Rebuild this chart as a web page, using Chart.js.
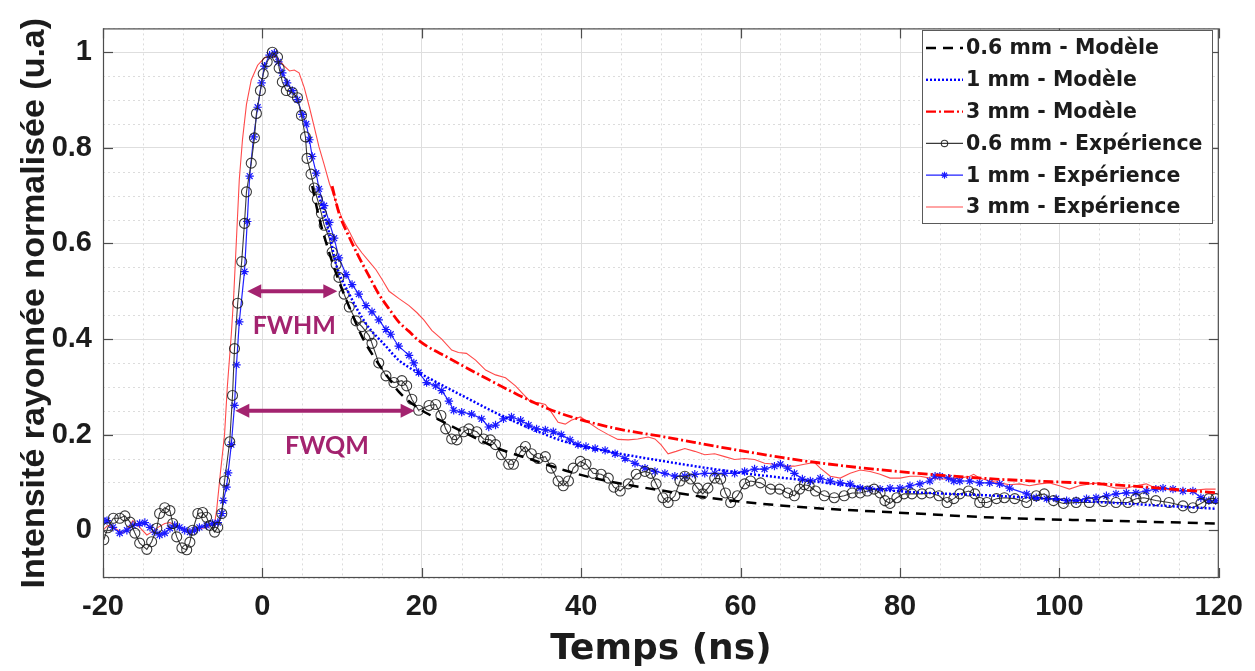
<!DOCTYPE html>
<html>
<head>
<meta charset="utf-8">
<script src="https://cdn.jsdelivr.net/npm/chart.js@4.4.1/dist/chart.umd.min.js"></script>
<style>
  html, body { margin: 0; padding: 0; background: #fff; }
</style>
</head>
<body>
<canvas id="chart" width="1255" height="671"></canvas>
<script>
// series labels (legend order)
const seriesNames = ['0.6 mm - Modèle', '1 mm - Modèle', '3 mm - Modèle',
                     '0.6 mm - Expérience', '1 mm - Expérience', '3 mm - Expérience'];

// tick labels
const xTicks = [-20, 0, 20, 40, 60, 80, 100, 120];
const yTicks = [0, 0.2, 0.4, 0.6, 0.8, 1];

// model curves [time ns, normalized intensity]
const model06 = [[6.25,0.72],[7.1,0.655],[8.4,0.58],[9.6,0.521],[10.9,0.467],[12.5,0.405],[14.25,0.356],
  [16.25,0.309],[17.1,0.29],[19.6,0.255],[21.5,0.237],[25.5,0.203],[29.6,0.171],[33.75,0.148],[38,0.125],
  [42.1,0.107],[50.5,0.082],[58.75,0.062],[68.75,0.047],[79.6,0.037],[93.75,0.025],[105.9,0.02],[119.6,0.014]];
const model1 = [[7.1,0.7],[8.4,0.62],[9.25,0.556],[10.9,0.494],[13,0.432],[15.5,0.385],[17.1,0.356],
  [21.25,0.315],[25.5,0.278],[29.6,0.243],[33.75,0.212],[38,0.185],[42.1,0.169],[50.5,0.144],[58.75,0.123],
  [68.75,0.103],[79.6,0.082],[92.1,0.072],[105.9,0.058],[119.6,0.045]];
const model3 = [[8.75,0.72],[9.6,0.664],[10.9,0.613],[12.1,0.572],[13.4,0.531],[14.6,0.494],[15.9,0.463],
  [17.1,0.436],[18.4,0.416],[19.6,0.397],[23.4,0.36],[27.5,0.323],[31.75,0.286],[36,0.253],[40,0.231],
  [44.6,0.212],[50.5,0.195],[58.75,0.17],[68,0.145],[79.6,0.123],[92,0.107],[106,0.096],[120,0.078]];

// experimental curves
const exp06 = [[-19.9,-0.02],[-19.4,0.005],[-18.7,0.025],[-17.9,0.025],[-17.25,0.03],[-16.6,0.017],[-16,-0.006],
  [-15.4,-0.027],[-14.5,-0.04],[-13.9,-0.024],[-13.25,0.004],[-12.9,0.035],[-12.25,0.047],[-11.6,0.041],
  [-11.25,0.014],[-10.75,-0.014],[-10.1,-0.037],[-9.5,-0.041],[-9.1,-0.025],[-8.75,0],[-8.1,0.035],[-7.5,0.037],
  [-7,0.027],[-6.6,0.01],[-6,-0.004],[-5.6,0.006],[-5.1,0.035],[-4.75,0.103],[-4.1,0.185],[-3.75,0.282],
  [-3.5,0.38],[-3.1,0.475],[-2.6,0.562],[-2.25,0.642],[-2,0.708],[-1.4,0.768],[-1,0.821],[-0.75,0.872],
  [-0.25,0.92],[0.1,0.955],[0.6,0.98],[1.25,1.0],[1.9,0.99],[2.1,0.967],[2.5,0.938],[3,0.92],[3.75,0.916],
  [4.4,0.905],[4.9,0.868],[5.4,0.823],[5.6,0.778],[6.1,0.745],[6.5,0.716],[6.9,0.693],[7.4,0.663],[7.75,0.638],
  [8.4,0.611],[8.75,0.582],[9.25,0.556],[9.6,0.529],[10.25,0.494],[10.9,0.467],[11.75,0.438],[12.5,0.426],
  [13.4,0.407],[13.75,0.391],[14.6,0.35],[15.5,0.323],[16.5,0.309],[17.5,0.313],[18.1,0.302],[18.75,0.274],
  [19.6,0.251],[20.9,0.261],[21.75,0.263],[22.4,0.24],[23,0.212],[23.75,0.191],[24.4,0.189],[25.25,0.206],
  [25.9,0.212],[26.9,0.206],[27.75,0.191],[28.6,0.189],[29.25,0.179],[30,0.158],[30.9,0.138],[31.5,0.138],
  [32.4,0.165],[33,0.175],[33.75,0.16],[34.6,0.15],[35.5,0.154],[36.25,0.13],[37.1,0.103],[37.75,0.093],
  [38.4,0.103],[39,0.13],[39.9,0.144],[40.6,0.138],[41.5,0.119],[42.5,0.117],[43.4,0.109],[44.1,0.09],
  [44.9,0.082],[45.9,0.097],[46.9,0.117],[48,0.123],[48.75,0.119],[49.4,0.097],[50.25,0.068],[50.9,0.058],
  [51.75,0.072],[52.4,0.103],[53,0.113],[53.75,0.107],[54.6,0.088],[55.25,0.076],[55.9,0.088],[56.75,0.109],
  [57.5,0.107],[58.1,0.078],[58.75,0.058],[59.6,0.072],[60.5,0.097],[61.25,0.103],[62.5,0.099],[63.75,0.086],
  [64.9,0.086],[65.9,0.078],[66.75,0.072],[67.4,0.086],[68,0.095],[68.6,0.093],[69.4,0.082],[70.5,0.072],
  [71.75,0.068],[73,0.072],[74,0.078],[75,0.078],[75.9,0.082],[76.75,0.086],[77.5,0.078],[78.1,0.062],
  [78.75,0.056],[79.6,0.068],[80.5,0.076],[81.5,0.076],[82.75,0.076],[83.75,0.078],[84.9,0.072],[85.9,0.058],
  [86.75,0.066],[87.5,0.076],[88.6,0.082],[89.4,0.076],[90,0.058],[90.9,0.058],[92.1,0.066],[93.1,0.068],
  [94.4,0.066],[95.9,0.058],[97.1,0.072],[98.1,0.076],[99.25,0.062],[100.5,0.056],[102.1,0.058],[103.75,0.058],
  [105.5,0.06],[107.1,0.058],[108.6,0.058],[109.6,0.066],[110.6,0.068],[112.1,0.062],[113.75,0.058],
  [115.5,0.051],[116.75,0.047],[117.75,0.056],[118.75,0.066],[119.6,0.066]];
const exp1 = [[-20,0.02],[-19.5,0.02],[-18.75,0.006],[-17.9,-0.006],[-17,0],[-16.25,0.01],[-15.4,0.014],
  [-14.75,0.016],[-14.1,0.006],[-13.5,-0.004],[-12.9,-0.01],[-12.25,-0.006],[-11.6,0.004],[-11,0.01],
  [-10.4,0.006],[-9.75,0],[-9.1,-0.004],[-8.5,0],[-7.9,0.006],[-7,0.01],[-6.25,0.014],[-5.6,0.016],
  [-5.1,0.035],[-4.9,0.062],[-4.5,0.09],[-4.3,0.12],[-3.9,0.179],[-3.5,0.261],[-3.25,0.346],[-2.9,0.436],
  [-2.25,0.541],[-1.9,0.646],[-1.6,0.741],[-1.1,0.823],[-0.6,0.885],[-0.1,0.936],[0.25,0.971],[0.9,0.994],
  [1.5,0.998],[2,0.98],[2.5,0.957],[3.1,0.936],[3.75,0.92],[4.4,0.901],[5,0.87],[5.5,0.85],[5.9,0.817],
  [6.25,0.782],[6.75,0.747],[7.1,0.714],[7.75,0.679],[8.4,0.644],[9,0.611],[9.6,0.57],[10.5,0.535],
  [11.25,0.514],[12.1,0.494],[13,0.47],[13.75,0.457],[14.6,0.44],[15.5,0.42],[16.1,0.41],[17.1,0.385],
  [18.4,0.366],[19,0.35],[19.6,0.33],[20.6,0.309],[21.75,0.302],[22.5,0.292],[23.4,0.27],[24,0.251],
  [25,0.247],[26.25,0.243],[27.5,0.233],[28.4,0.216],[29.25,0.22],[30.25,0.233],[31.25,0.237],[32.4,0.23],
  [33.4,0.22],[34.4,0.212],[35.5,0.21],[36.5,0.206],[37.5,0.2],[38.6,0.189],[39.6,0.179],[40.6,0.175],
  [41.75,0.171],[43,0.167],[44.25,0.16],[45.5,0.15],[46.75,0.14],[48,0.13],[49.25,0.123],[50.5,0.119],
  [51.75,0.113],[53,0.113],[54.25,0.117],[55.5,0.119],[56.75,0.119],[58,0.119],[59.25,0.119],[60.5,0.123],
  [61.75,0.128],[63,0.128],[64.25,0.134],[65,0.138],[65.9,0.13],[66.75,0.119],[67.75,0.107],[68.75,0.103],
  [70,0.109],[71.25,0.103],[72.5,0.099],[73.75,0.097],[75,0.088],[76.25,0.086],[77.5,0.086],[78.75,0.088],
  [80,0.088],[81.25,0.093],[82.5,0.097],[83.75,0.103],[84.4,0.113],[85,0.113],[86.1,0.109],[86.75,0.103],
  [87.5,0.103],[88.75,0.103],[90,0.099],[91.25,0.099],[92.5,0.097],[93.75,0.088],[95.9,0.076],[97.1,0.068],
  [98.4,0.066],[99.6,0.066],[100.9,0.062],[102.1,0.062],[103.4,0.066],[104.6,0.068],[105.9,0.072],
  [107.1,0.076],[108.4,0.078],[109.6,0.078],[110.9,0.082],[112.1,0.086],[113,0.088],[114.25,0.086],
  [115.5,0.082],[116.75,0.082],[117.75,0.068],[118.75,0.062],[119.6,0.062]];
const exp3 = [[-20,0],[-19.4,0.01],[-18.5,0.004],[-17.6,-0.006],[-16.9,0.004],[-16.25,0.02],[-15.4,0.006],
  [-14.5,-0.01],[-13.9,-0.004],[-13.1,0.006],[-12.25,0.014],[-11.6,0.016],[-11,0.01],[-10.1,0.004],[-9.4,0],
  [-8.5,0],[-7.6,0.004],[-6.9,0.006],[-6,0.014],[-5.75,0.041],[-5.5,0.082],[-5.25,0.123],[-4.75,0.2],
  [-4.4,0.3],[-3.9,0.41],[-3.6,0.49],[-3.25,0.611],[-2.9,0.734],[-2.5,0.817],[-2,0.891],[-1.4,0.942],
  [-0.6,0.973],[0.25,0.988],[1.1,0.994],[1.9,0.988],[2.75,0.971],[3.4,0.961],[4,0.963],[4.6,0.957],
  [5.25,0.926],[5.9,0.885],[6.5,0.844],[7.1,0.802],[7.75,0.765],[8.4,0.726],[9.25,0.685],[10,0.652],
  [10.9,0.625],[11.75,0.597],[12.5,0.58],[13.4,0.562],[14.25,0.545],[15,0.525],[15.9,0.5],[17.1,0.485],
  [18.4,0.47],[19.4,0.455],[20.25,0.44],[21.25,0.418],[22.5,0.4],[23.75,0.377],[24.6,0.372],[25.6,0.37],
  [26.75,0.356],[28,0.335],[29.25,0.325],[30.5,0.319],[31.75,0.302],[32.75,0.284],[33.75,0.267],[34.6,0.267],
  [35.5,0.263],[36.25,0.247],[37.1,0.226],[38,0.222],[38.75,0.23],[39.9,0.237],[40.9,0.226],[42.1,0.212],
  [43.4,0.2],[44.6,0.19],[45.9,0.189],[47.1,0.191],[48.4,0.195],[49.25,0.191],[50,0.179],[50.9,0.16],
  [51.9,0.165],[53,0.171],[54.25,0.165],[55.5,0.158],[56.75,0.16],[58,0.154],[59.25,0.148],[60.5,0.15],
  [61.75,0.148],[63,0.14],[64.25,0.138],[65.5,0.134],[66.75,0.134],[68,0.138],[69.25,0.142],[70,0.13],
  [71.25,0.113],[72.5,0.109],[73.75,0.119],[75,0.126],[76.25,0.123],[77.5,0.117],[78.75,0.109],[80,0.109],
  [81.25,0.113],[82.5,0.113],[83.75,0.109],[85,0.107],[86.25,0.107],[87.5,0.109],[88.75,0.113],[89.25,0.117],
  [90,0.109],[91.25,0.103],[92.5,0.099],[93.75,0.095],[95,0.097],[96.25,0.093],[97.5,0.097],[98.75,0.099],
  [100,0.093],[101.25,0.086],[102.5,0.093],[103.75,0.097],[105,0.099],[105.9,0.093],[107.1,0.088],
  [108.4,0.088],[109.6,0.093],[110.9,0.097],[112.1,0.088],[113.4,0.086],[114.6,0.082],[115.9,0.082],
  [117.1,0.084],[118.4,0.086],[119.6,0.086]];

// width markers: [start ns, end ns, level]
const fwhmSpan = [-1.9, 9.4, 0.5];
const fwqmSpan = [-3.4, 19.1, 0.25];

const toXY = arr => arr.map(p => ({ x: p[0], y: p[1] }));
const ACCENT = '#a3236f';
const TXT = '#1c1c1c';

const datasets = [
  { label: seriesNames[0], data: toXY(model06), borderColor: '#000', borderWidth: 2.5, borderDash: [10, 7],
    pointRadius: 0, cubicInterpolationMode: 'monotone' },
  { label: seriesNames[1], data: toXY(model1), borderColor: '#0000ff', borderWidth: 2.5, borderDash: [2, 2],
    pointRadius: 0, cubicInterpolationMode: 'monotone' },
  { label: seriesNames[2], data: toXY(model3), borderColor: '#ff0000', borderWidth: 2.8, borderDash: [10, 3, 2, 3],
    pointRadius: 0, cubicInterpolationMode: 'monotone' },
  { label: seriesNames[3], data: toXY(exp06), borderColor: '#3a3a3a', borderWidth: 1.1, pointStyle: 'circle',
    pointRadius: 5, pointBorderColor: 'rgba(25,25,25,0.85)', pointBackgroundColor: 'rgba(0,0,0,0)', pointBorderWidth: 1.1 },
  { label: seriesNames[4], data: toXY(exp1), borderColor: '#2020ff', borderWidth: 1.2, pointStyle: 'star',
    pointRadius: 4.2, pointBorderColor: '#1a1aff', pointBorderWidth: 1.2 },
  { label: seriesNames[5], data: toXY(exp3), borderColor: '#ff4a4a', borderWidth: 1.1, pointRadius: 0 }
];

function line(ctx, x1, y1, x2, y2) {
  ctx.beginPath(); ctx.moveTo(x1, y1); ctx.lineTo(x2, y2); ctx.stroke();
}

function arrowHead(ctx, x, y, dir) {
  ctx.beginPath();
  ctx.moveTo(x, y);
  ctx.lineTo(x - dir * 14, y - 7);
  ctx.lineTo(x - dir * 14, y + 7);
  ctx.closePath();
  ctx.fill();
}

const decor = {
  id: 'decor',
  beforeDatasetsDraw(chart) {
    const { ctx, chartArea: a, scales: { x, y } } = chart;
    ctx.save();
    ctx.strokeStyle = '#dcdcdc';
    ctx.lineWidth = 1;
    ctx.setLineDash([2, 3]);
    // minor grid, every 5 ns and 0.05
    for (let v = -20; v <= 120; v += 5) {
      if (v % 20 === 0) continue;
      const px = Math.round(x.getPixelForValue(v)) + 0.5;
      line(ctx, px, a.top, px, a.bottom);
    }
    for (let i = -2; i <= 21; i++) {
      if (i % 4 === 0) continue;
      const py = Math.round(y.getPixelForValue(i * 0.05)) + 0.5;
      line(ctx, a.left, py, a.right, py);
    }
    ctx.restore();
  },
  afterDatasetsDraw(chart) {
    const { ctx, chartArea: a, scales: { x, y } } = chart;
    ctx.save();
    // axes box and inward ticks
    ctx.strokeStyle = '#4d4d4d';
    ctx.lineWidth = 1.2;
    ctx.strokeRect(a.left + 0.5, a.top + 0.5, a.right - a.left - 1, a.bottom - a.top - 1);
    xTicks.forEach(v => {
      const px = Math.round(x.getPixelForValue(v)) + 0.5;
      line(ctx, px, a.bottom, px, a.bottom - 10);
      line(ctx, px, a.top, px, a.top + 10);
    });
    yTicks.forEach(v => {
      const py = Math.round(y.getPixelForValue(v)) + 0.5;
      line(ctx, a.left, py, a.left + 10, py);
      line(ctx, a.right, py, a.right - 10, py);
    });

    // width annotations
    ctx.strokeStyle = ACCENT;
    ctx.fillStyle = ACCENT;
    ctx.lineWidth = 4;
    ctx.textAlign = 'center';
    ctx.textBaseline = 'middle';
    ctx.font = 'bold 25px Lato';
    [[fwhmSpan, 'FWHM'], [fwqmSpan, 'FWQM']].forEach(([s, txt]) => {
      const x1 = x.getPixelForValue(s[0]);
      const x2 = x.getPixelForValue(s[1]);
      const py = y.getPixelForValue(s[2]);
      line(ctx, x1 + 10, py, x2 - 10, py);
      arrowHead(ctx, x1, py, -1);
      arrowHead(ctx, x2, py, 1);
      ctx.fillText(txt, (x1 + x2) / 2 + 2, py + 35);
    });

    // legend box
    const lx = 922, ly = 30, lw = 290, lh = 193, rowH = 31.8;
    ctx.fillStyle = '#fff';
    ctx.fillRect(lx, ly, lw, lh);
    ctx.strokeStyle = '#5a5a5a';
    ctx.lineWidth = 1;
    ctx.strokeRect(lx + 0.5, ly + 0.5, lw, lh);
    ctx.font = 'bold 20.5px "DejaVu Sans", sans-serif';
    ctx.textAlign = 'left';
    chart.data.datasets.forEach((ds, i) => {
      const cy = ly + 18 + i * rowH;
      ctx.save();
      ctx.strokeStyle = ds.borderColor;
      ctx.lineWidth = Math.min(ds.borderWidth, 2.4);
      ctx.setLineDash(ds.borderDash || []);
      line(ctx, lx + 4, cy, lx + 41, cy);
      ctx.setLineDash([]);
      if (ds.pointStyle === 'circle') {
        ctx.strokeStyle = ds.pointBorderColor;
        ctx.beginPath(); ctx.arc(lx + 22.5, cy, 3.2, 0, Math.PI * 2); ctx.stroke();
      } else if (ds.pointStyle === 'star') {
        ctx.strokeStyle = ds.pointBorderColor;
        const r = 3.5, cx = lx + 22.5;
        line(ctx, cx - r, cy, cx + r, cy); line(ctx, cx, cy - r, cx, cy + r);
        line(ctx, cx - r * 0.7, cy - r * 0.7, cx + r * 0.7, cy + r * 0.7);
        line(ctx, cx - r * 0.7, cy + r * 0.7, cx + r * 0.7, cy - r * 0.7);
      }
      ctx.restore();
      ctx.fillStyle = TXT;
      ctx.textBaseline = 'middle';
      ctx.fillText(ds.label, lx + 44, cy + 1);
    });
    ctx.restore();
  }
};

new Chart(document.getElementById('chart'), {
  type: 'line',
  data: { datasets },
  options: {
    responsive: false,
    animation: false,
    events: [],
    spanGaps: true,
    layout: { padding: { left: 0, right: 33, top: 19, bottom: 0 } },
    plugins: { legend: { display: false }, tooltip: { enabled: false } },
    elements: { line: { tension: 0 } },
    scales: {
      x: {
        type: 'linear', min: -20, max: 120,
        afterBuildTicks: s => { s.ticks = xTicks.map(v => ({ value: v })); },
        afterFit: s => { s.height = 93; },
        grid: { color: '#dedede', lineWidth: 1, drawTicks: false },
        border: { display: false },
        ticks: { color: TXT, padding: 12, maxRotation: 0, font: { family: 'Liberation Sans', size: 29, weight: 'bold' } },
        title: { display: true, text: 'Temps (ns)', color: TXT, padding: { top: 0, bottom: 0 },
                 font: { family: 'DejaVu Sans', size: 36, weight: 'bold' } }
      },
      y: {
        type: 'linear', min: -0.1, max: 1.05,
        afterBuildTicks: s => { s.ticks = yTicks.map(v => ({ value: v })); },
        afterFit: s => { s.width = 103; },
        grid: { color: '#dedede', lineWidth: 1, drawTicks: false },
        border: { display: false },
        ticks: { color: TXT, padding: 11, font: { family: 'Liberation Sans', size: 29, weight: 'bold' },
                 callback: v => String(Math.round(v * 10) / 10) },
        title: { display: true, text: 'Intensité rayonnée normalisée (u.a)', color: TXT, padding: { top: 14, bottom: 0 },
                 font: { family: 'Liberation Sans', size: 34, weight: 'bold' } }
      }
    }
  },
  plugins: [decor]
});
</script>
</body>
</html>
